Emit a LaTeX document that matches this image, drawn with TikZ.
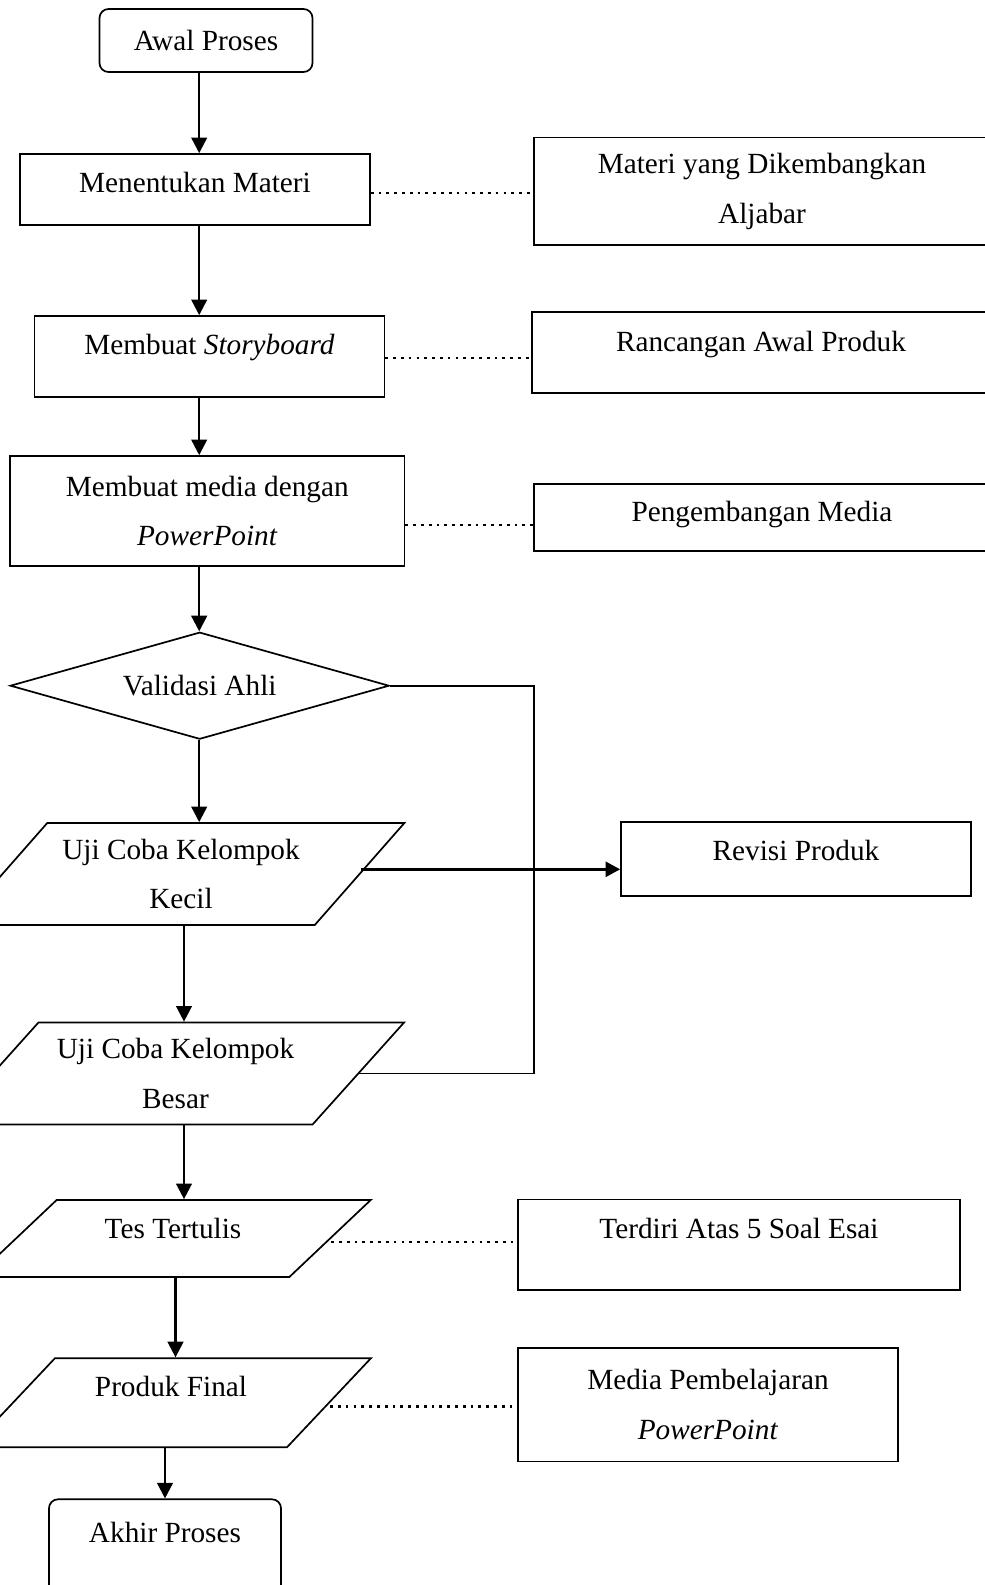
\documentclass[tikz,border=0pt]{standalone}
\usepackage{fontspec}
\setmainfont{Liberation Serif}
\usetikzlibrary{shapes.geometric,arrows.meta}
\newdimen\pxu \pxu=0.41pt
\tikzset{
  base/.style={draw, line width=0.7pt, inner sep=0pt, align=center,
    font=\fontsize{12pt}{20.4pt}\selectfont},
  term/.style={base, rounded corners=9\pxu},
  io/.style={base, trapezium, trapezium stretches=true,
    trapezium left angle=#1, trapezium right angle=180-#1},
  decision/.style={base, diamond, aspect=3.5},
  flow/.style={line width=0.75pt},
  arr/.style={line width=1pt, -{Triangle[length=6.4pt,width=6.4pt]}},
  dots/.style={line width=1.1pt, dash pattern=on 1.1pt off 2.1pt},
}
\begin{document}
\begin{tikzpicture}[x=0.41pt,y=-0.41pt]
  \useasboundingbox (0,0) rectangle (985,1585);
  \clip (0,0) rectangle (985,1585);
  % main column
  \node[term, minimum width=213\pxu, minimum height=63\pxu] (awal) at (206,40.5) {Awal Proses};
  \node[base, minimum width=350\pxu, text height=38\pxu, text depth=33\pxu] (menentukan) at (195,189.5) {Menentukan Materi};
  \node[base, minimum width=350\pxu, text height=38\pxu, text depth=43\pxu] (storyboard) at (209.5,356.5) {Membuat \textit{Storyboard}};
  \node[base, minimum width=394.5\pxu, minimum height=110\pxu] (media) at (207.3,511) {Membuat media dengan\\\textit{PowerPoint}};
  \node[decision, minimum width=379\pxu, minimum height=107\pxu] (validasi) at (199.7,685.7) {Validasi Ahli};
  \node[io=41.5, minimum width=447\pxu, minimum height=102\pxu] (kecil) at (181,874) {Uji Coba Kelompok\\Kecil};
  \node[io=41.6, minimum width=458\pxu, minimum height=102\pxu] (besar) at (175.5,1073.5) {Uji Coba Kelompok\\Besar};
  \node[io=58.2, minimum width=396\pxu, text height=38\pxu, text depth=39\pxu] (tes) at (173,1238.5) {Tes Tertulis};
  \node[io=58.3, minimum width=400\pxu, text height=38\pxu, text depth=51\pxu] (final) at (171,1402.7) {Produk Final};
  \node[term, minimum width=232\pxu, text height=43\pxu, text depth=67\pxu] (akhir) at (165,1554.3) {Akhir Proses};
  % side notes
  \node[base, minimum width=456\pxu, minimum height=107.5\pxu] (materi) at (762,191.2) {Materi yang Dikembangkan\\Aljabar};
  \node[base, minimum width=458\pxu, text height=39\pxu, text depth=42\pxu] (rancangan) at (761,352.5) {Rancangan Awal Produk};
  \node[base, minimum width=456\pxu, text height=37\pxu, text depth=30\pxu] (pengembangan) at (762,517.5) {Pengembangan Media};
  \node[base, minimum width=350\pxu, text height=38.5\pxu, text depth=36\pxu] (revisi) at (796,859) {Revisi Produk};
  \node[base, minimum width=441.5\pxu, text height=38.5\pxu, text depth=52\pxu] (terdiri) at (739,1244.8) {Terdiri Atas 5 Soal Esai};
  \node[base, minimum width=380\pxu, minimum height=113.5\pxu] (pembelajaran) at (708,1404.7) {Media Pembelajaran\\\textit{PowerPoint}};
  % arrow columns and line heights
  \coordinate (c1) at (199.2,0);
  \coordinate (c2) at (184,0);
  \coordinate (c3) at (175.5,0);
  \coordinate (ret) at (534,0);
  \coordinate (rv) at (0,869.3);
  \coordinate (d1) at (0,193);
  \coordinate (d2) at (0,358);
  \coordinate (d3) at (0,525);
  \coordinate (d4) at (0,1242);
  \coordinate (d5) at (0,1406.7);
  \draw[arr] (awal.south -| c1) -- (menentukan.north -| c1);
  \draw[arr] (menentukan.south -| c1) -- (storyboard.north -| c1);
  \draw[arr] (storyboard.south -| c1) -- (media.north -| c1);
  \draw[arr] (media.south -| c1) -- (validasi.north -| c1);
  \draw[arr] (validasi.south -| c1) -- (kecil.north -| c1);
  \draw[arr] (kecil.south -| c2) -- (besar.north -| c2);
  \draw[arr] (besar.south -| c2) -- (tes.north -| c2);
  \draw[arr] (tes.south -| c3) -- (final.north -| c3);
  \draw[arr] (final.south -| akhir.north) -- (akhir.north);
  \draw[flow] (validasi.east) -| (ret |- besar.east) -- (besar.east);
  \draw[line width=1.1pt, -{Triangle[length=6pt,width=6.2pt]}] (kecil.east |- rv) -- (revisi.west |- rv);
  % dotted links
  \draw[dots] (menentukan.east |- d1) -- (materi.west |- d1);
  \draw[dots] (storyboard.east |- d2) -- (rancangan.west |- d2);
  \draw[dots] (media.east |- d3) -- (pengembangan.west |- d3);
  \draw[dots] (tes.east |- d4) -- (terdiri.west |- d4);
  \draw[dots] (final.east |- d5) -- (pembelajaran.west |- d5);
\end{tikzpicture}
\end{document}
